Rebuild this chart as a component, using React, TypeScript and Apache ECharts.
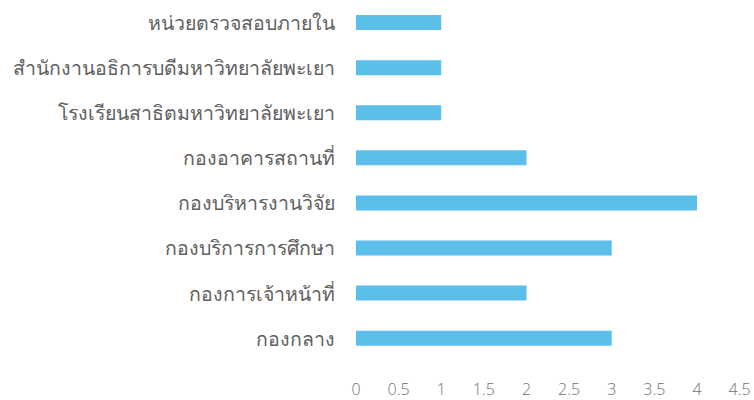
import React, { useEffect, useRef } from "react";
import * as echarts from "echarts";

const categories = [
  "กองกลาง",
  "กองการเจ้าหน้าที่",
  "กองบริการการศึกษา",
  "กองบริหารงานวิจัย",
  "กองอาคารสถานที่",
  "โรงเรียนสาธิตมหาวิทยาลัยพะเยา",
  "สำนักงานอธิการบดีมหาวิทยาลัยพะเยา",
  "หน่วยตรวจสอบภายใน",
];
const values = [3, 2, 3, 4, 2, 1, 1, 1];

export default function App() {
  const ref = useRef<HTMLDivElement>(null);
  useEffect(() => {
    if (!ref.current) return;
    const chart = echarts.init(ref.current, null, { renderer: "svg" });
    chart.setOption({
      animation: false,
      grid: { left: 356, right: 14.4, top: -2.7, bottom: 39.3, containLabel: false },
      xAxis: {
        type: "value",
        min: 0,
        max: 4.5,
        interval: 0.5,
        axisLine: { show: false },
        axisTick: { show: false },
        splitLine: { show: false },
        axisLabel: {
          color: "#707070",
          fontSize: 16,
          margin: 20,
          fontFamily: "Open Sans, sans-serif",
          fontWeight: 300,
        },
      },
      yAxis: {
        type: "category",
        data: categories,
        axisLine: { show: false },
        axisTick: { show: false },
        axisLabel: {
          color: "#606060",
          fontSize: 19.5,
          margin: 21,
          fontFamily: "Noto Sans, sans-serif",
          fontWeight: 300,
        },
      },
      series: [
        {
          type: "bar",
          data: values,
          barWidth: 15,
          itemStyle: { color: "#5bbfea" },
        },
      ],
    });
    return () => chart.dispose();
  }, []);
  return <div ref={ref} style={{ width: 754, height: 400, position: "absolute", left: 0, top: 0 }} />;
}
